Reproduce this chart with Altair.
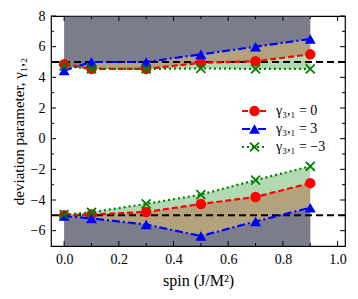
import altair as alt
import pandas as pd

# ---- data ----
spin = [0.0, 0.1, 0.3, 0.5, 0.7, 0.9]

red_upper = [4.85, 4.55, 4.55, 4.95, 5.05, 5.5]
red_lower = [-5.0, -4.95, -4.78, -4.26, -3.8, -2.9]
blue_upper = [4.45, 5.0, 5.0, 5.5, 6.0, 6.5]
blue_lower = [-5.05, -5.2, -5.6, -6.35, -5.4, -4.5]
green_upper = [4.75, 4.55, 4.55, 4.58, 4.55, 4.55]
green_lower = [-4.95, -4.8, -4.25, -3.65, -2.7, -1.8]

series_labels = ["γ₃,₁ = 0", "γ₃,₁ = 3", "γ₃,₁ = −3"]
reference_levels = [5, -5]

x_ticks_major = [0.0, 0.2, 0.4, 0.6, 0.8, 1.0]
x_ticks_minor = [0.1, 0.3, 0.5, 0.7, 0.9]
y_ticks_major = [-6, -4, -2, 0, 2, 4, 6, 8]
y_ticks_minor = [-5, -3, -1, 1, 3, 5, 7]

Y_TOP, Y_BOTTOM = 8, -7
X_LO, X_HI = -0.048, 1.027

W, H = 294, 230
FONT = "Liberation Serif"
X_TITLE = "spin (J/M²)"
Y_TITLE = "deviation parameter, γ₁,₂"

xs = alt.Scale(domain=[X_LO, X_HI], nice=False, zero=False)
ys = alt.Scale(domain=[Y_BOTTOM, Y_TOP], nice=False, zero=False)

x_axis = alt.Axis(values=x_ticks_major, format=".1f", ticks=False, tickSize=0,
                  domain=False, grid=False, labelPadding=6, labelFontSize=14,
                  titleFontSize=16, titlePadding=6, labelFont=FONT, titleFont=FONT,
                  titleFontWeight="normal", labelColor="black", titleColor="black")
y_axis = alt.Axis(values=y_ticks_major, format="d", ticks=False, tickSize=0,
                  domain=False, grid=False, labelPadding=6, labelFontSize=14,
                  titleFontSize=15, titlePadding=4, labelFont=FONT, titleFont=FONT,
                  titleFontWeight="normal", labelColor="black", titleColor="black")


def X(field):
    return alt.X(field, scale=xs, axis=x_axis, title=X_TITLE)


def Y(field):
    return alt.Y(field, scale=ys, axis=y_axis, title=Y_TITLE)


series = [
    ("red", "#ff0000", red_upper, red_lower, [6, 3], "circle"),
    ("blue", "#0000ff", blue_upper, blue_lower, [8, 3, 2, 3], "triangle-up"),
    ("green", "#008000", green_upper, green_lower, [2, 3], "M-1,-1L1,1M-1,1L1,-1"),
]

layers = []

# shaded areas (red, blue, green order for compositing)
for name, col, up, lo, dash, shape in series:
    df = pd.DataFrame({"spin": spin, "up": up, "lo": lo})
    layers.append(alt.Chart(df).mark_area(color=col, opacity=0.3).encode(
        x=X("spin:Q"), y=Y("up:Q"), y2=alt.datum(Y_TOP)))
    layers.append(alt.Chart(df).mark_area(color=col, opacity=0.3).encode(
        x=X("spin:Q"), y=Y("lo:Q"), y2=alt.datum(Y_BOTTOM)))

# black dashed reference lines
layers.append(alt.Chart(pd.DataFrame({"v": reference_levels})).mark_rule(
    color="black", strokeDash=[7, 4], strokeWidth=2).encode(y=Y("v:Q")))


def marker(d, name, col, shape):
    if name == "green":
        return alt.Chart(d).mark_point(shape=shape, color=col, filled=False,
                                       strokeWidth=1.8, size=80, opacity=1)
    return alt.Chart(d).mark_point(shape=shape, color=col, filled=True,
                                   size=110 if name == "red" else 120, opacity=1)


# lines and markers
for name, col, up, lo, dash, shape in series:
    df = pd.DataFrame({"spin": spin, "up": up, "lo": lo})
    for fld in ["up", "lo"]:
        layers.append(alt.Chart(df).mark_line(color=col, strokeDash=dash, strokeWidth=2.2).encode(
            x=X("spin:Q"), y=Y(f"{fld}:Q")))
    for fld in ["up", "lo"]:
        layers.append(marker(df, name, col, shape).encode(x=X("spin:Q"), y=Y(f"{fld}:Q")))


# inward ticks
def xticks(vals, length):
    d = pd.DataFrame({"t": vals})
    bot = alt.Chart(d).mark_rule(color="black", strokeWidth=1).encode(
        x=X("t:Q"), y=alt.value(H), y2=alt.value(H - length))
    top = alt.Chart(d).mark_rule(color="black", strokeWidth=1).encode(
        x=X("t:Q"), y=alt.value(0), y2=alt.value(length))
    return [bot, top]


def yticks(vals, length):
    d = pd.DataFrame({"t": vals})
    left = alt.Chart(d).mark_rule(color="black", strokeWidth=1).encode(
        y=Y("t:Q"), x=alt.value(0), x2=alt.value(length))
    right = alt.Chart(d).mark_rule(color="black", strokeWidth=1).encode(
        y=Y("t:Q"), x=alt.value(W), x2=alt.value(W - length))
    return [left, right]


layers += xticks(x_ticks_major, 5) + xticks(x_ticks_minor, 3)
layers += yticks(y_ticks_major, 5) + yticks(y_ticks_minor, 3)

# manual legend
leg_y = [95, 113, 131]
for i, (name, col, up, lo, dash, shape) in enumerate(series):
    d = pd.DataFrame({"label": [series_labels[i]]})
    yy = leg_y[i]
    layers.append(alt.Chart(d).mark_rule(color=col, strokeDash=dash, strokeWidth=2.2).encode(
        x=alt.value(191), x2=alt.value(216), y=alt.value(yy)))
    layers.append(marker(d, name, col, shape).encode(x=alt.value(203.5), y=alt.value(yy)))
    layers.append(alt.Chart(d).mark_text(align="left", baseline="middle", font=FONT,
                                         fontSize=14, color="black").encode(
        x=alt.value(225), y=alt.value(yy), text="label:N"))

chart = alt.layer(*layers).properties(
    width=W, height=H,
    autosize=alt.AutoSizeParams(type="none"),
    padding={"left": 43, "top": 8, "right": 5, "bottom": 45},
).configure_view(stroke="black", strokeWidth=1.2)

chart.save("out.html", embed_options={"renderer": "svg", "actions": False})
